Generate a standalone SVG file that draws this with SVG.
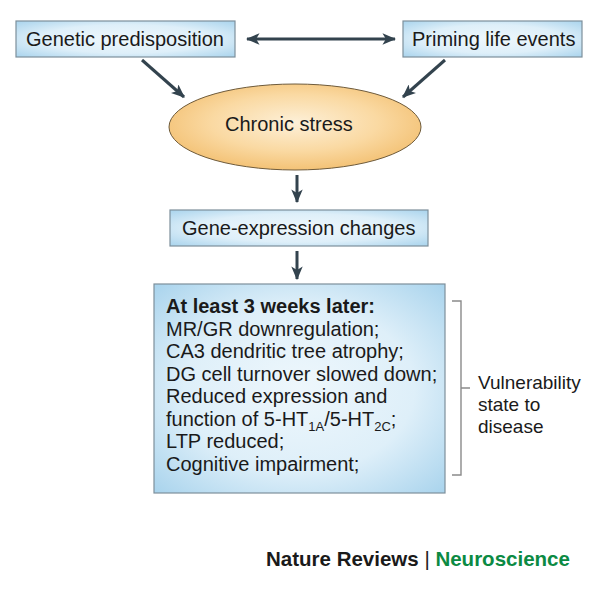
<svg xmlns="http://www.w3.org/2000/svg" width="600" height="591" viewBox="0 0 600 591">
<defs>
<radialGradient id="blue" cx="50%" cy="50%" r="72%">
<stop offset="0" stop-color="#eef7fc"/>
<stop offset="0.55" stop-color="#deeff9"/>
<stop offset="1" stop-color="#a6d2ec"/>
</radialGradient>
<radialGradient id="orange" cx="50%" cy="45%" r="60%">
<stop offset="0" stop-color="#fdf0d8"/>
<stop offset="0.55" stop-color="#fad9a2"/>
<stop offset="1" stop-color="#f2bd6c"/>
</radialGradient>
<marker id="ah" viewBox="0 0 12 10" refX="11" refY="5" markerWidth="4.6" markerHeight="3.8" orient="auto-start-reverse" markerUnits="strokeWidth">
<path d="M0,0 L12,5 L0,10 L3,5 z" fill="#33434e"/>
</marker>
</defs>
<style>
.box{fill:url(#blue);stroke:#7d8f9b;stroke-width:1.2}
.t{font-family:"Liberation Sans",Arial,sans-serif;font-size:20px;fill:#1a1a1a}
.b{font-weight:bold}
.arr{stroke:#33434e;stroke-width:3;fill:none;marker-end:url(#ah)}
.br{stroke:#8a8a8a;stroke-width:1.4;fill:none}
</style>
<rect width="600" height="591" fill="#ffffff"/>
<g id="connectors">
<line class="arr" x1="247" y1="39" x2="395" y2="39" style="marker-start:url(#ah)"/>
<line class="arr" x1="142" y1="60" x2="184" y2="97"/>
<line class="arr" x1="445" y1="60" x2="403" y2="97"/>
<line class="arr" x1="297" y1="175" x2="297" y2="202"/>
<line class="arr" x1="297" y1="251" x2="297" y2="279"/>
</g>
<g id="genetic">
<rect class="box" x="16" y="21" width="219" height="36"/>
<text class="t" x="26" y="46">Genetic predisposition</text>
</g>
<g id="priming">
<rect class="box" x="403" y="21" width="179" height="36"/>
<text class="t" x="412" y="46">Priming life events</text>
</g>
<g id="stress">
<ellipse cx="295" cy="127" rx="126" ry="43" fill="url(#orange)" stroke="#6e5b3c" stroke-width="1"/>
<text class="t" x="225" y="131">Chronic stress</text>
</g>
<g id="gene">
<rect class="box" x="170" y="210" width="258" height="36"/>
<text class="t" x="182" y="235">Gene-expression changes</text>
</g>
<g id="effects">
<rect class="box" x="154" y="284" width="291" height="209"/>
<text class="t b" x="166" y="313">At least 3 weeks later:</text>
<text class="t" x="166" y="335.5">MR/GR downregulation;</text>
<text class="t" x="166" y="358">CA3 dendritic tree atrophy;</text>
<text class="t" x="166" y="380.5">DG cell turnover slowed down;</text>
<text class="t" x="166" y="403">Reduced expression and</text>
<text class="t" x="166" y="425.5">function of 5-HT<tspan font-size="13" dy="5">1A</tspan><tspan dy="-5">/5-HT</tspan><tspan font-size="13" dy="5">2C</tspan><tspan dy="-5">;</tspan></text>
<text class="t" x="166" y="448">LTP reduced;</text>
<text class="t" x="166" y="470.5">Cognitive impairment;</text>
</g>
<g id="vulnerability">
<path class="br" d="M452,301 H461 V475 H452 M461,388 H470"/>
<text class="t" x="478" y="389" style="font-size:19px">Vulnerability</text>
<text class="t" x="478" y="411" style="font-size:19px">state to</text>
<text class="t" x="478" y="433" style="font-size:19px">disease</text>
</g>
<g id="footer">
<text class="t b" x="266" y="566" fill="#222222" style="font-size:20.5px">Nature Reviews <tspan font-weight="normal" fill="#222222">|</tspan> <tspan fill="#0b8a43">Neuroscience</tspan></text>
</g>
</svg>
